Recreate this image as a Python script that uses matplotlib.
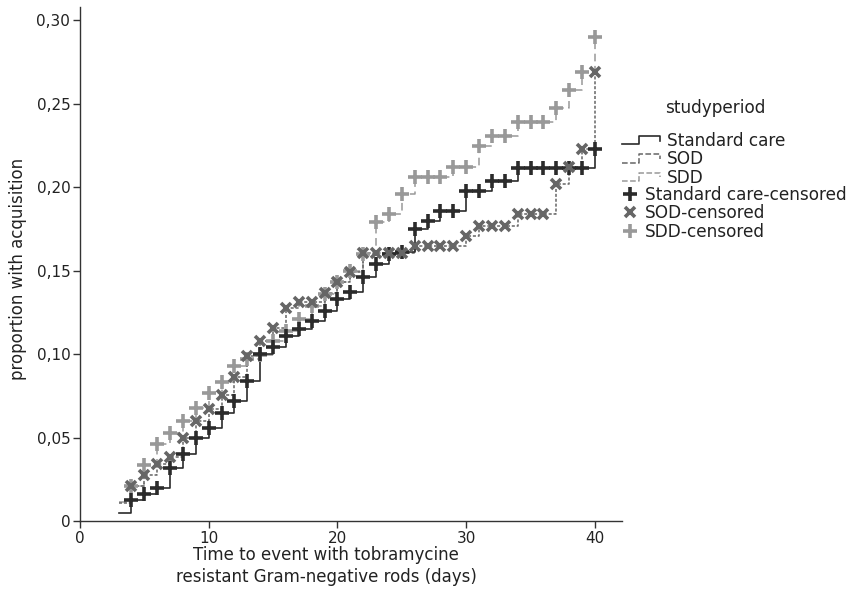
import numpy as np
import matplotlib
matplotlib.use("Agg")
import matplotlib.pyplot as plt
from matplotlib.lines import Line2D
from matplotlib.legend_handler import HandlerBase
from matplotlib.ticker import FuncFormatter

plt.rcParams['font.family'] = ['DejaVu Sans']

# Kaplan-Meier type cumulative acquisition
days = list(range(3, 41))

std_care = [0.005, 0.0125, 0.016, 0.0195, 0.032, 0.040, 0.0495, 0.056, 0.065, 0.072,
            0.084, 0.100, 0.104, 0.111, 0.115, 0.120, 0.126, 0.133, 0.137, 0.146,
            0.154, 0.160, 0.161, 0.175, 0.180, 0.186, 0.186, 0.198, 0.198, 0.204,
            0.204, 0.2115, 0.2115, 0.2115, 0.2115, 0.2115, 0.2115, 0.223]

sod = [0.0105, 0.021, 0.0275, 0.034, 0.0385, 0.050, 0.060, 0.067, 0.0756, 0.086,
       0.0986, 0.108, 0.1156, 0.1275, 0.131, 0.131, 0.1367, 0.1433, 0.149, 0.1605,
       0.1605, 0.1605, 0.1605, 0.165, 0.165, 0.165, 0.165, 0.171, 0.177, 0.177,
       0.177, 0.184, 0.184, 0.184, 0.202, 0.212, 0.223, 0.269]

sdd = [0.0115, 0.021, 0.0335, 0.046, 0.0525, 0.060, 0.068, 0.0766, 0.083, 0.0926,
       0.097, 0.0996, 0.108, 0.114, 0.121, 0.1286, 0.136, 0.143, 0.1497, 0.160,
       0.179, 0.184, 0.196, 0.206, 0.206, 0.206, 0.212, 0.212, 0.225, 0.231,
       0.231, 0.239, 0.239, 0.239, 0.2476, 0.2584, 0.269, 0.290]

# censored marks from day 4 on
cens_start = 1

c_std = '#2b2b2b'
c_sod = '#666666'
c_sdd = '#999999'

fig = plt.figure(figsize=(8.64, 5.90), dpi=100)
ax = fig.add_axes([80/864, 69/590, 542/864, 514/590])

ax.step(days, sdd, where='post', color=c_sdd, lw=1.1, ls=(0, (5, 3)))
ax.step(days, sod, where='post', color=c_sod, lw=1.1, ls=(0, (2, 1.2)))
ax.step(days, std_care, where='post', color=c_std, lw=1.2, ls='-')

ax.plot(days[cens_start:], sdd[cens_start:], ls='none', marker='+', ms=10, mew=2.6, color=c_sdd)
ax.plot(days[cens_start:], std_care[cens_start:], ls='none', marker='+', ms=10, mew=2.6, color=c_std)
ax.plot(days[cens_start:], sod[cens_start:], ls='none', marker='x', ms=7, mew=2.6, color=c_sod)

ax.set_xlim(0, 42.1)
ax.set_ylim(0, 0.308)
ax.set_xticks([0, 10, 20, 30, 40])
ax.set_yticks([0, 0.05, 0.10, 0.15, 0.20, 0.25, 0.30])
ax.yaxis.set_major_formatter(FuncFormatter(lambda v, p: '0' if v == 0 else f'{v:.2f}'.replace('.', ',')))

for s in ['top', 'right']:
    ax.spines[s].set_visible(False)
for s in ['left', 'bottom']:
    ax.spines[s].set_color('#333333')
    ax.spines[s].set_linewidth(1.0)
ax.tick_params(direction='out', length=5, width=1, pad=2, color='#333333', labelsize=11, labelcolor='#222222')

ax.set_xlabel('Time to event with tobramycine\nresistant Gram-negative rods (days)', fontsize=12,
              color='#222222', linespacing=1.3)
ax.xaxis.set_label_coords(0.454, -0.048, transform=ax.transAxes)
ax.xaxis.label.set_va('top')
ax.set_ylabel('proportion with acquisition', fontsize=12, color='#222222')
ax.yaxis.set_label_coords(-0.098, 0.49)


class StepHandler(HandlerBase):
    def create_artists(self, legend, orig, xd, yd, w, h, fontsize, trans):
        x = np.array([0, 0.45, 0.45, 1.0, 1.0]) * w - xd
        y = np.array([0.15, 0.15, 0.85, 0.85, 0.45]) * h - yd
        ln = Line2D(x, y, color=orig.get_color(), lw=orig.get_linewidth(), ls=orig.get_linestyle())
        ln.set_transform(trans)
        return [ln]


line_handles = [Line2D([], [], color=c_std, lw=1.2, ls='-'),
                Line2D([], [], color=c_sod, lw=1.1, ls=(0, (2, 1.2))),
                Line2D([], [], color=c_sdd, lw=1.1, ls=(0, (5, 3)))]
mark_handles = [Line2D([], [], ls='none', marker='+', ms=10, mew=2.6, color=c_std),
                Line2D([], [], ls='none', marker='x', ms=7, mew=2.6, color=c_sod),
                Line2D([], [], ls='none', marker='+', ms=10, mew=2.6, color=c_sdd)]

leg_fs = 12.2
fig.text(665/864, 1 - 108/590, 'studyperiod', fontsize=leg_fs, color='#222222', va='center', ha='left')

leg1 = fig.legend(line_handles, ['Standard care', 'SOD', 'SDD'],
                  handler_map={Line2D: StepHandler()},
                  loc='upper left', bbox_to_anchor=(622/864, 1 - 132/590),
                  frameon=False, borderpad=0, borderaxespad=0, fontsize=leg_fs,
                  handlelength=2.25, handletextpad=0.4, labelspacing=0.02)
leg2 = fig.legend(mark_handles, ['Standard care-censored', 'SOD-censored', 'SDD-censored'],
                  loc='upper left', bbox_to_anchor=(622/864, 1 - 186/590),
                  frameon=False, borderpad=0, borderaxespad=0, fontsize=leg_fs,
                  handlelength=0.95, handletextpad=0.4, labelspacing=0.02)
for lg in (leg1, leg2):
    for t in lg.get_texts():
        t.set_color('#222222')

fig.savefig('out.png', dpi=100)
